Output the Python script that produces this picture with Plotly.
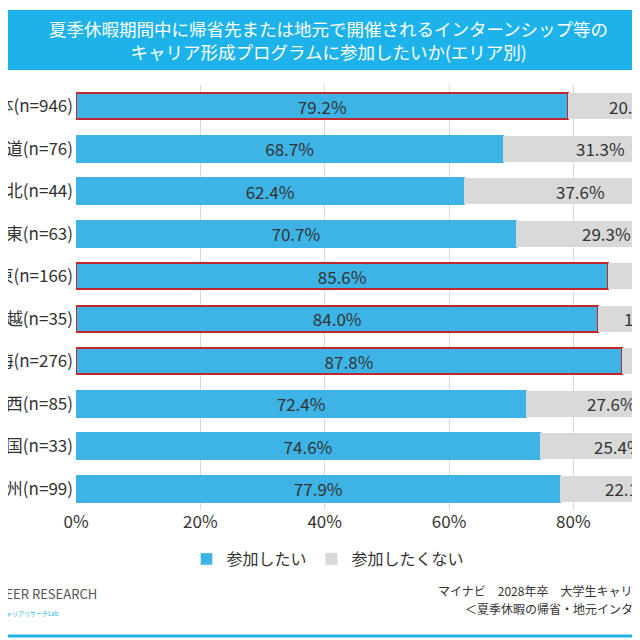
import plotly.graph_objects as go

# Areas (top to bottom) and shares
areas = ["全体(n=946)", "北海道(n=76)", "東北(n=44)", "北関東(n=63)", "南関東(n=166)",
         "甲信越(n=35)", "東海(n=276)", "関西(n=85)", "中国・四国(n=33)", "九州(n=99)"]
want = [79.2, 68.7, 62.4, 70.7, 85.6, 84.0, 87.8, 72.4, 74.6, 77.9]
not_want = [20.8, 31.3, 37.6, 29.3, 14.4, 16.0, 12.2, 27.6, 25.4, 22.1]
highlight = [True, False, False, False, True, True, True, False, False, False]

FONT = "Noto Sans CJK JP"
BLUE = "#3DB4E5"
GRAY = "#D9D9D9"
TXT = "#333333"

fig = go.Figure()
fig.add_trace(go.Bar(
    y=areas, x=want, orientation="h", name="参加したい", showlegend=False,
    marker=dict(color=BLUE,
                line=dict(color=["#C0282D" if h else BLUE for h in highlight], width=2)),
    text=[f"{v:.1f}%" for v in want], textposition="inside", insidetextanchor="middle",
    textfont=dict(size=17, color=TXT, family=FONT),
))
fig.add_trace(go.Bar(
    y=areas, x=not_want, orientation="h", name="参加したくない", showlegend=False,
    marker=dict(color=GRAY, line=dict(width=0)), textposition="none",
))
# legend-only entries
fig.add_trace(go.Bar(x=[None], y=[None], name="参加したい", marker=dict(color=BLUE)))
fig.add_trace(go.Bar(x=[None], y=[None], name="参加したくない", marker=dict(color=GRAY)))

# gray labels at bar centers (cut by page edge like the reference)
for a, w, n in zip(areas, want, not_want):
    fig.add_annotation(x=w + n / 2, y=a, text=f"{n:.1f}%", showarrow=False,
                       xref="x", yref="y", font=dict(size=17, color=TXT, family=FONT))

fig.add_shape(type="rect", xref="paper", yref="paper", x0=0, x1=1, y0=1 - 62 / 640, y1=1 - 2 / 640,
              fillcolor="#1DB3EA", line=dict(width=0), layer="below")
fig.add_annotation(xref="paper", yref="paper", x=0.5, y=1 - 32 / 640, yanchor="middle", showarrow=False,
                   text="夏季休暇期間中に帰省先または地元で開催されるインターンシップ等の<br>キャリア形成プログラムに参加したいか(エリア別)",
                   font=dict(size=17.5, color="white", family=FONT))
fig.add_shape(type="line", xref="paper", yref="paper", x0=0, x1=1, y0=12 / 640, y1=12 / 640,
              line=dict(color="#1DB3EA", width=3))
fig.add_annotation(xref="paper", yref="paper", x=-0.045, y=1 - 597 / 640, xanchor="left", showarrow=False,
                   text="CAREER RESEARCH", font=dict(size=13, color="#555555", family=FONT))
fig.add_annotation(xref="paper", yref="paper", x=-0.015, y=1 - 612 / 640, xanchor="left", showarrow=False,
                   text="キャリアリサーチLab", font=dict(size=6, color="#1DB3EA", family=FONT))
fig.add_annotation(xref="paper", yref="paper", x=428 / 640, y=1 - 593 / 640, xanchor="left", showarrow=False,
                   text="マイナビ　2028年卒　大学生キャリア意向調査", font=dict(size=12, color=TXT, family=FONT))
fig.add_annotation(xref="paper", yref="paper", x=455 / 640, y=1 - 611 / 640, xanchor="left", showarrow=False,
                   text="＜夏季休暇の帰省・地元インターンシップ＞", font=dict(size=12, color=TXT, family=FONT))

fig.update_layout(
    width=640, height=640, barmode="stack", bargap=0.38,
    paper_bgcolor="white", plot_bgcolor="white",
    margin=dict(l=0, r=0, t=0, b=0),
    font=dict(family=FONT, color=TXT),
    uniformtext=dict(minsize=17, mode="show"),
    legend=dict(orientation="h", x=0.5, xanchor="center", y=1 - 534 / 640, yanchor="top",
                font=dict(size=16, family=FONT), traceorder="normal", itemwidth=30),
    xaxis=dict(domain=[68 / 640, 1], range=[0, 92], tickvals=[0, 20, 40, 60, 80],
               ticktext=["0%", "20%", "40%", "60%", "80%"], automargin=False,
               tickfont=dict(size=17, family=FONT), showgrid=True, gridcolor="#D9D9D9",
               zeroline=False, showline=False),
    yaxis=dict(domain=[1 - 502 / 640, 1 - 77 / 640], autorange="reversed", automargin=False,
               tickfont=dict(size=17, family=FONT), ticks="", showgrid=False, ticklabelstandoff=2),
)

fig.write_html("out.html")
